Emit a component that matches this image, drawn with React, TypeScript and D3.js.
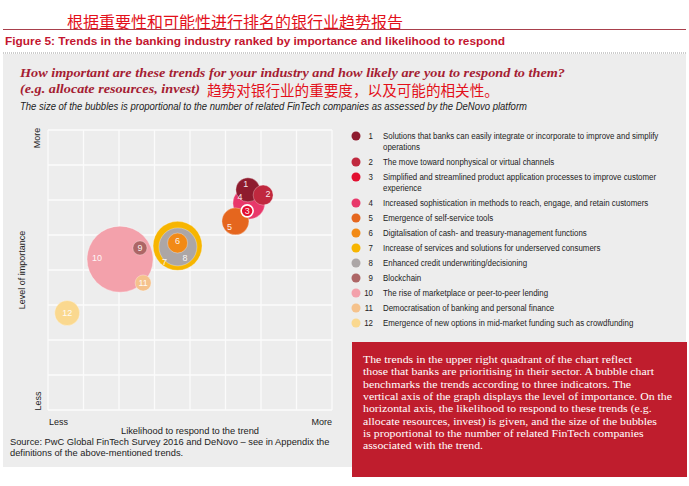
import React from 'react';
import * as d3 from 'd3';

// trend ids, positions on the 0–8 grid, bubble sizes (related FinTech companies)
const trendIds = ['1', '2', '3', '4', '5', '6', '7', '8', '9', '10', '11', '12'];
const likelihood = [5.63, 6.06, 5.61, 5.66, 5.28, 3.65, 3.65, 3.66, 2.59, 2.03, 2.68, 0.54];
const importance = [6.29, 6.14, 5.69, 5.91, 5.39, 4.77, 4.69, 4.66, 4.63, 4.31, 3.63, 2.77];
const companies = [72, 50, 18, 128, 91, 50, 300, 181, 25, 545, 32, 78];
const trendColors = [
  '#8e1b2e', '#c0283e', '#e20f30', '#e8386a', '#e5661e', '#f28a16',
  '#f7b500', '#aca6a6', '#ad6565', '#f3a1ab', '#f5c28c', '#fad88f',
];
// label nudges (px) so the numbers sit where the original put them
const labelDx = [-2, 5, 0, -9, -6, 0, -13, 7, 0, -23, 0, 0];
const labelDy = [-6, -1, 0, -6, 5, -2, 16, 11, 0, -1, 0, 0];

const trendNames: string[][] = [
  ['Solutions that banks can easily integrate or incorporate to improve and simplify', 'operations'],
  ['The move toward nonphysical or virtual channels'],
  ['Simplified and streamlined product application processes to improve customer', 'experience'],
  ['Increased sophistication in methods to reach, engage, and retain customers'],
  ['Emergence of self-service tools'],
  ['Digitalisation of cash- and treasury-management functions'],
  ['Increase of services and solutions for underserved consumers'],
  ['Enhanced credit underwriting/decisioning'],
  ['Blockchain'],
  ['The rise of marketplace or peer-to-peer lending'],
  ['Democratisation of banking and personal finance'],
  ['Emergence of new options in mid-market funding such as crowdfunding'],
];

const gridTicks = [0, 1, 2, 3, 4, 5, 6, 7, 8];

const boxLines = [
  'The trends in the upper right quadrant of the chart reflect',
  'those that banks are prioritising in their sector. A bubble chart',
  'benchmarks the trends according to three indicators. The',
  'vertical axis of the graph displays the level of importance. On the',
  'horizontal axis, the likelihood to respond to these trends (e.g.',
  'allocate resources, invest) is given, and the size of the bubbles',
  'is proportional to the number of related FinTech companies',
  'associated with the trend.',
];

const W = 689, H = 486;
const PLOT = { l: 48, r: 332, t: 130, b: 410 };
const SANS = 'Liberation Sans, Arial, sans-serif';
const SERIF = 'Liberation Serif, Times New Roman, serif';
const CJK = 'Noto Sans CJK SC, sans-serif';
const NARROW_SCALE = 0.85; // no narrow face installed: squeeze Liberation Sans
const WIDE_SERIF = 1.075;  // the note font is wider than Times

export default function App() {
  const x = d3.scaleLinear().domain([0, 8]).range([PLOT.l, PLOT.r]);
  const y = d3.scaleLinear().domain([0, 8]).range([PLOT.b, PLOT.t]);
  const r = d3.scaleSqrt().domain([0, d3.max(companies) ?? 1]).range([0, 33]);

  const bubbles = trendIds.map((id, i) => ({
    id, i, cx: x(likelihood[i]), cy: y(importance[i]), rad: r(companies[i]), color: trendColors[i],
  })).sort((a, b) => b.rad - a.rad);

  // legend rows: wrapped items take two lines
  let rowY = 136;
  const legendRows = trendNames.map((lines, i) => {
    const row = { i, y: rowY, lines };
    rowY += lines.length === 2 ? 26 : 15;
    return row;
  });

  return (
    <div style={{ position: 'absolute', left: 0, top: 0 }}>
      <svg width={W} height={H} viewBox={`0 0 ${W} ${H}`} style={{ display: 'block', background: '#fff' }}>
        {/* header */}
        <text x={67} y={28} fontFamily={CJK} fontSize={16} fill="#e3101a">根据重要性和可能性进行排名的银行业趋势报告</text>
        <line x1={3} x2={686} y1={29.5} y2={29.5} stroke="#a8404c" strokeWidth={1} />
        <text x={5} y={45} fontFamily={SANS} fontWeight={700} fontSize={11} fill="#c3162f"
          textLength={500} lengthAdjust="spacingAndGlyphs">
          Figure 5: Trends in the banking industry ranked by importance and likelihood to respond
        </text>
        <line x1={3} x2={686} y1={53} y2={53} stroke="#9a9a9a" strokeWidth={1} strokeDasharray="1,1" />

        {/* grey panel */}
        <rect x={3} y={54} width={683} height={413} fill="#ededed" />

        <text x={20} y={77} fontFamily={SERIF} fontStyle="italic" fontWeight={700} fontSize={13} fill="#a51d33"
          textLength={545} lengthAdjust="spacingAndGlyphs">
          How important are these trends for your industry and how likely are you to respond to them?
        </text>
        <text x={20} y={93} fontFamily={SERIF} fontStyle="italic" fontWeight={700} fontSize={13} fill="#a51d33"
          textLength={180} lengthAdjust="spacingAndGlyphs">
          (e.g. allocate resources, invest)
        </text>
        <text x={207} y={96} fontFamily={CJK} fontSize={14.6} fill="#e3101a">趋势对银行业的重要度，以及可能的相关性。</text>
        <text x={20} y={110} fontFamily={SANS} fontStyle="italic" fontSize={10} fill="#222"
          textLength={507} lengthAdjust="spacingAndGlyphs">
          The size of the bubbles is proportional to the number of related FinTech companies as assessed by the DeNovo platform
        </text>

        {/* grid */}
        <g stroke="#fbfbfb" strokeWidth={1.3}>
          {gridTicks.map(t => (
            <line key={`v${t}`} x1={x(t)} x2={x(t)} y1={PLOT.t} y2={PLOT.b} />
          ))}
          {gridTicks.map(t => (
            <line key={`h${t}`} x1={PLOT.l} x2={PLOT.r} y1={y(t)} y2={y(t)} />
          ))}
        </g>

        {/* bubbles */}
        <g>
          {bubbles.map(b => (
            <circle key={b.id} cx={b.cx} cy={b.cy} r={b.rad} fill={b.color}
              stroke="#fff" strokeWidth={b.id === '3' ? 1.6 : 0.5} strokeOpacity={b.id === '3' ? 1 : 0.6} />
          ))}
        </g>
        <g fontFamily={SANS} fontSize={9} fill="#fff" fillOpacity={0.92} textAnchor="middle">
          {bubbles.map(b => (
            <text key={b.id} x={b.cx + labelDx[b.i]} y={b.cy + labelDy[b.i] + 3.2}>{b.id}</text>
          ))}
        </g>

        {/* axis labels */}
        <g fontFamily={SANS} fontSize={9} fill="#222">
          <text transform={`translate(40,${PLOT.t + 8}) rotate(-90)`} textAnchor="middle">More</text>
          <text transform={`translate(25,270) rotate(-90)`} textAnchor="middle">Level of importance</text>
          <text transform={`translate(41,${PLOT.b - 9}) rotate(-90)`} textAnchor="middle">Less</text>
          <text x={PLOT.l + 1} y={425}>Less</text>
          <text x={PLOT.r} y={425} textAnchor="end">More</text>
        </g>
        <g fontFamily={SANS} fontSize={9.3} fill="#222">
          <text x={190} y={434} textAnchor="middle">Likelihood to respond to the trend</text>
          <text x={10} y={445}>Source: PwC Global FinTech Survey 2016 and DeNovo – see in Appendix the</text>
          <text x={10} y={456}>definitions of the above-mentioned trends.</text>
        </g>

        {/* legend */}
        <g fontFamily={SANS} fontSize={9.3} fill="#222">
          {legendRows.map(row => (
            <g key={row.i}>
              <circle cx={356} cy={row.y} r={4.5} fill={trendColors[row.i]} />
              <text transform={`translate(373,${row.y + 3.2}) scale(${NARROW_SCALE},1)`} textAnchor="end">
                {trendIds[row.i]}
              </text>
              {row.lines.map((ln, k) => (
                <text key={k} transform={`translate(383,${row.y + 3.2 + k * 11}) scale(${NARROW_SCALE},1)`}>{ln}</text>
              ))}
            </g>
          ))}
        </g>

        {/* red note box */}
        <rect x={352} y={342} width={335} height={135} fill="#bf1d2d" />
        <g fontFamily={SERIF} fontSize={11} fill="#fff">
          {boxLines.map((ln, k) => (
            <text key={k} transform={`translate(363,${363 + k * 12.3}) scale(${WIDE_SERIF},1)`}>{ln}</text>
          ))}
        </g>
      </svg>
    </div>
  );
}
